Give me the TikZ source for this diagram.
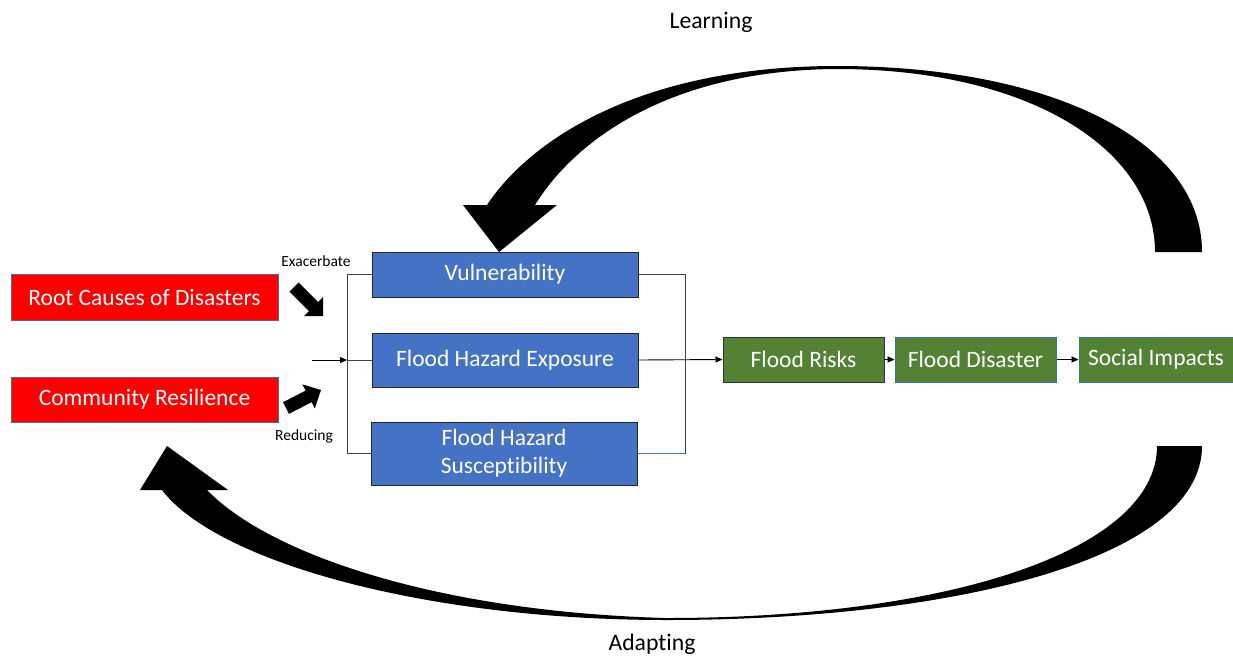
\documentclass[tikz,border=0pt]{standalone}
\usepackage{fontspec}
\setmainfont[Ligatures=NoCommon]{Carlito}
\usetikzlibrary{arrows.meta,calc}
\definecolor{boxred}{HTML}{FF0000}
\definecolor{boxblue}{HTML}{4472C4}
\definecolor{boxgreen}{HTML}{548235}
\definecolor{edgeblue}{HTML}{41719C}
\definecolor{linegray}{HTML}{404040}
\begin{document}
\begin{tikzpicture}[x=1pt,y=-1pt,
  box/.style={rectangle,inner sep=0pt,line width=1pt,text=white,align=center,
    font=\fontsize{23.5}{28}\selectfont},
  redbox/.style={box,fill=boxred,draw=edgeblue,minimum width=267pt,minimum height=46pt},
  bluebox/.style={box,fill=boxblue,draw=black!85,minimum width=266pt},
  greenbox/.style={box,fill=boxgreen,minimum width=161pt,minimum height=45pt},
  lbl/.style={inner sep=0pt,font=\fontsize{15.5}{18}\selectfont},
  biglbl/.style={inner sep=0pt,font=\fontsize{23.7}{28}\selectfont},
  conn/.style={line width=0.9pt,draw=linegray},
  arr/.style={line width=0.9pt,-{Triangle[length=7pt,width=6pt]}},
  fat/.style={fill=black,draw=none}]
\useasboundingbox (0,0) rectangle (1233,656);
\fill[white] (0,0) rectangle (1233,656);

% boxes
\node[redbox] (root) at (144.5,297) {Root Causes of Disasters};
\node[redbox,minimum height=45pt] (comm) at (144.5,399.5) {Community Resilience};
\node[bluebox,minimum height=45pt] (vul) at (505,274.5) {Vulnerability};
\node[bluebox,minimum height=54pt] (exp) at (505,360) {Flood Hazard Exposure};
\node[bluebox,minimum height=63pt] (sus) at (504,453.5) {Flood Hazard\\Susceptibility};
\node[greenbox,draw=black!80] (risk) at (803.5,359.5) {Flood Risks};
\node[greenbox,draw=edgeblue] (dis) at (975.5,359.5) {Flood Disaster};
\node[greenbox,draw=edgeblue,minimum width=154pt] (soc) at (1156,359.5) {Social Impacts};

% labels
\node[lbl] (exa) at (316,261) {Exacerbate};
\node[lbl] (red) at (304,436) {Reducing};
\node[biglbl] (learn) at (711,22) {Learning};
\node[biglbl] (adapt) at (652,644) {Adapting};

% left bracket
\coordinate (lin) at (312,360);
\coordinate (lj) at (347,360);
\draw[conn] (vul.west) -- (vul.west -| lj) -- (sus.west -| lj) -- (sus.west);
\draw[arr] (lin) -- (lj);
\draw[conn] (lj) -- (exp.west);

% right bracket
\coordinate (rj) at (685,360);
\draw[conn] (vul.east) -- (vul.east -| rj) -- (sus.east -| rj);
\draw[line width=0.9pt,draw=boxblue] (sus.east) -- (sus.east -| rj);
\draw[arr] (exp.east) -- (risk.west);
\draw[arr] (risk.east) -- (dis.west);
\draw[arr] (dis.east) -- (soc.west);

% small fat arrows
\fill[fat] (289.4,291.6) -- (298.6,282.4) -- (318.1,301.9) -- (323,297) -- (323,316) -- (304,316) -- (308.9,311.1) -- cycle;
\fill[fat] (289.0,413.8) -- (311.6,402.2) -- (314.8,408.4) -- (321,390) -- (302.4,384.4) -- (305.6,390.6) -- (283.0,402.2) -- cycle;

% Learning arc
\fill[fat] (1202,252) .. controls (1202,140) and (1050,66) .. (837,66)
  .. controls (640,66) and (530,140) .. (487,205)
  -- (463,205) -- (499,252) -- (557,205) -- (535,205)
  .. controls (575,140) and (670,70) .. (837,69)
  .. controls (1030,69) and (1155,150) .. (1155,252) -- cycle;

% Adapting arc
\fill[fat] (1202,446) .. controls (1202,560) and (950,620) .. (667,620)
  .. controls (420,620) and (215,560) .. (162,490)
  -- (140,490) -- (167,446) -- (228,490) -- (207,490)
  .. controls (270,555) and (440,612) .. (667,618)
  .. controls (950,618) and (1157,550) .. (1157,446) -- cycle;
\end{tikzpicture}
\end{document}
